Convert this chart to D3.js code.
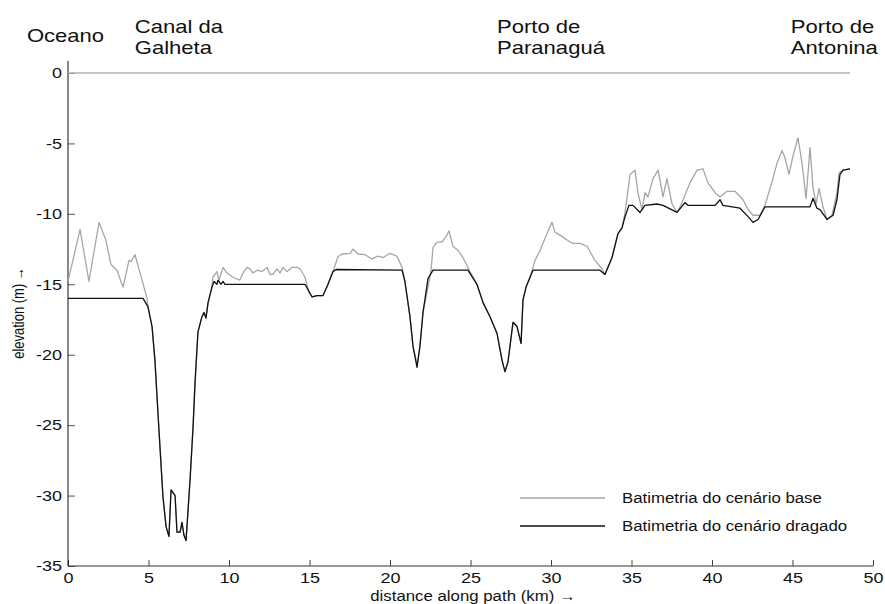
<!DOCTYPE html>
<html><head><meta charset="utf-8">
<script src="https://cdn.jsdelivr.net/npm/d3@7/dist/d3.min.js"></script>
<style>
body{margin:0;background:#fff;}
svg text{font-family:Arial,"Liberation Sans",Helvetica,sans-serif;fill:#111;}
</style></head>
<body><svg id="c" width="885" height="604"></svg>
<script>
// distance along path (km), elevation (m)
const baseBathy = [
[0,-14.8],[0.75,-11.1],[1.30,-14.8],[1.93,-10.6],[2.36,-11.9],[2.67,-13.6],[3.04,-14],[3.42,-15.2],[3.79,-13.3],[3.91,-13.4],[4.16,-12.9],[4.60,-14.7],[4.91,-16],
[4.97,-16.6],[5.22,-18],[5.40,-20.4],[5.53,-23],[5.71,-26.5],[5.90,-30.1],[6.09,-32.2],[6.27,-32.9],[6.40,-29.6],[6.65,-30],[6.77,-32.6],[6.96,-32.6],[7.08,-31.9],[7.20,-32.8],[7.33,-33.2],[7.39,-32.2],[7.58,-28.9],[7.76,-25.3],[7.89,-22],[8.07,-18.4],[8.32,-17.3],[8.45,-17],[8.57,-17.4],[8.70,-16.3],[8.94,-15.2],
[8.99,-14.5],[9.25,-14.1],[9.38,-14.7],[9.63,-13.8],[9.88,-14.2],[10.25,-14.5],[10.68,-14.7],[10.87,-14.2],[11.12,-13.8],[11.30,-13.9],[11.49,-14.2],[11.74,-14.0],[12.05,-14.1],[12.36,-13.8],[12.55,-14.3],[12.73,-14.3],[12.98,-13.9],[13.17,-14.2],[13.35,-13.8],[13.60,-14.1],[13.91,-13.8],[14.22,-13.8],[14.41,-13.9],[14.72,-14.5],[14.97,-15.6],
[15.16,-15.9],[15.47,-15.8],[15.84,-15.8],[16.15,-15],[16.46,-14.1],
[16.77,-13.05],[17.02,-12.85],[17.52,-12.8],[17.70,-12.5],[18.01,-12.85],[18.45,-12.9],[18.88,-13.2],[19.25,-13],[19.57,-13.1],[20.0,-12.8],[20.43,-13],[20.75,-13.8],[20.93,-14.9],
[21.24,-17.3],[21.43,-19.4],[21.68,-20.7],[21.86,-19.4],[22.05,-17],[22.36,-15.2],[22.55,-14],
[22.67,-12.4],[22.92,-12],[23.23,-12],[23.54,-11.5],[23.66,-11.2],[23.91,-12.3],[24.22,-12.6],[24.53,-13.1],[24.84,-13.8],[24.97,-14.1],
[25.40,-15],[25.78,-16.3],[26.21,-17.3],[26.65,-18.5],[26.96,-20.4],[27.14,-21.2],[27.33,-20.5],[27.64,-17.7],[27.89,-18],[28.14,-19.2],[28.26,-16.1],[28.45,-15.2],[28.70,-14.5],
[28.88,-13.8],[29.01,-13.3],[29.32,-12.6],[29.75,-11.4],[30.06,-10.6],[30.25,-11.3],[30.68,-11.6],[31.18,-12],[31.37,-12.1],[31.80,-12.1],[32.24,-12.3],[32.73,-13.3],[33.17,-13.9],[33.35,-14.3],
[33.79,-13.1],[34.16,-11.4],[34.41,-11],[34.60,-9.9],[34.91,-7.2],[35.22,-6.9],[35.40,-8.5],[35.65,-9.7],[35.84,-8.5],[36.02,-8.8],[36.34,-7.5],[36.65,-6.9],[36.96,-8.8],[37.20,-7.5],[37.52,-9.3],[37.83,-9.9],[38.14,-9.2],[38.63,-7.8],[39.07,-6.9],[39.44,-6.8],[39.75,-7.8],[40.19,-8.5],[40.50,-8.8],[40.93,-8.4],[41.43,-8.4],[41.93,-9],[42.24,-9.7],[42.55,-10.1],[42.98,-10.1],[43.29,-9.4],[43.73,-7.7],[44.04,-6.4],[44.35,-5.5],[44.53,-6],[44.78,-7.2],[45.03,-5.9],[45.34,-4.6],[45.59,-6.4],[45.84,-8.9],[46.09,-5.3],[46.27,-8.1],[46.46,-9.3],[46.65,-8.2],[46.89,-9.5],[47.14,-10.4],[47.45,-10.1],[47.76,-8.5],[47.89,-7.1],[48.14,-6.9],[48.57,-6.8]
];
const dredgedBathy = [
[0,-16],[4.66,-16],[4.97,-16.6],[5.22,-18],[5.40,-20.4],[5.53,-23],[5.71,-26.5],[5.90,-30.1],[6.09,-32.2],[6.27,-32.9],[6.40,-29.6],[6.65,-30],[6.77,-32.6],[6.96,-32.6],[7.08,-31.9],[7.20,-32.8],[7.33,-33.2],[7.39,-32.2],[7.58,-28.9],[7.76,-25.3],[7.89,-22],[8.07,-18.4],[8.32,-17.3],[8.45,-17],[8.57,-17.4],[8.70,-16.3],[8.94,-15.2],[9.07,-14.8],[9.25,-15],[9.32,-14.7],[9.50,-15],[9.63,-14.8],[9.75,-15],
[14.72,-15],[15.16,-15.9],[15.47,-15.8],[15.84,-15.8],[16.15,-15],[16.46,-14.1],[16.65,-13.95],[20.75,-14],[20.93,-14.8],[21.24,-17.3],[21.43,-19.4],[21.68,-20.9],[21.86,-19.4],[22.05,-17],[22.36,-14.6],[22.67,-14],[24.84,-14],
[25.40,-15],[25.78,-16.3],[26.21,-17.3],[26.65,-18.5],[26.96,-20.4],[27.14,-21.2],[27.33,-20.5],[27.64,-17.7],[27.89,-18],[28.14,-19.2],[28.26,-16.1],[28.45,-15.2],[28.70,-14.5],[28.88,-14],[33.04,-14],[33.35,-14.3],
[33.79,-13.1],[34.16,-11.4],[34.41,-11],[34.60,-10.2],[34.84,-9.4],[35.09,-9.4],[35.53,-9.9],[35.84,-9.4],[36.58,-9.3],[36.96,-9.4],[37.83,-9.9],[38.32,-9.2],[38.51,-9.4],[40.19,-9.4],[40.50,-9],[40.68,-9.4],[41.74,-9.6],[42.24,-10.2],[42.55,-10.6],[42.86,-10.4],[43.29,-9.5],[46.09,-9.5],[46.27,-8.9],[46.52,-9.6],[46.71,-9.7],[47.14,-10.4],[47.52,-10.1],[47.76,-9],[47.95,-7.2],[48.14,-6.9],[48.57,-6.8]
];
const seaLevel = [[0,0],[48.57,0]];
const xTicks = [0,5,10,15,20,25,30,35,40,45,50];
const yTicks = [0,-5,-10,-15,-20,-25,-30,-35];
const placeLabels = [
  {x:-2.55, lines:["Oceano"], y0:42},
  {x:4.15, lines:["Canal da","Galheta"], y0:33},
  {x:26.65, lines:["Porto de","Paranaguá"], y0:33},
  {x:44.9, lines:["Porto de","Antonina"], y0:33}
];
const legendItems = [
  {name:"Batimetria do cenário base", color:"#a6a6a6"},
  {name:"Batimetria do cenário dragado", color:"#111"}
];

const svg = d3.select("#c");
const x = d3.scaleLinear().domain([0,50]).range([68,873]);
const y = d3.scaleLinear().domain([-35,0]).range([566,73]);
const SX = 1.2;
function stretch(sel, k){
  sel.each(function(){
    const w = this.getComputedTextLength();
    d3.select(this).attr("textLength", w*k).attr("lengthAdjust","spacingAndGlyphs");
  });
}
const fmt = d => String(d);

// axes
const gx = svg.append("g").attr("transform",`translate(0,${y(-35)})`)
  .call(d3.axisBottom(x).tickValues(xTicks).tickFormat(fmt).tickSizeInner(-6).tickSizeOuter(0).tickPadding(6));
gx.select(".domain").remove();
gx.selectAll(".tick line").attr("stroke","#444");
gx.selectAll("text").attr("font-size",15).attr("fill","#111");
const gy = svg.append("g").attr("transform",`translate(${x(0)},0)`)
  .call(d3.axisLeft(y).tickValues(yTicks).tickFormat(fmt).tickSizeInner(-7).tickSizeOuter(0).tickPadding(6));
gy.select(".domain").remove();
gy.selectAll(".tick line").attr("stroke","#555");
gy.selectAll("text").attr("font-size",15).attr("fill","#111");
svg.selectAll(".tick text").attr("font-family","Arial, 'Liberation Sans', sans-serif");
stretch(svg.selectAll(".tick text"), SX);

// spines
svg.append("line").attr("x1",x(0)).attr("x2",x(0)).attr("y1",y(0.85)).attr("y2",y(-35)).attr("stroke","#111").attr("stroke-width",1);
svg.append("line").attr("x1",x(0)).attr("x2",x(50)).attr("y1",y(-35)).attr("y2",y(-35)).attr("stroke","#333").attr("stroke-width",1);

const line = d3.line().x(d=>x(d[0])).y(d=>y(d[1]));
svg.append("path").datum(seaLevel).attr("d",line).attr("fill","none").attr("stroke","#b4b4b4").attr("stroke-width",1.6);
svg.append("path").datum(baseBathy).attr("d",line).attr("fill","none").attr("stroke","#a6a6a6").attr("stroke-width",1.3).attr("stroke-linejoin","round");
svg.append("path").datum(dredgedBathy).attr("d",line).attr("fill","none").attr("stroke","#111").attr("stroke-width",1.3).attr("stroke-linejoin","round");

// place labels
placeLabels.forEach(p=>{
  p.lines.forEach((t,i)=>{
    svg.append("text").attr("class","place").attr("x",x(p.x)).attr("y",p.y0+i*21)
      .attr("font-size",19).text(t);
  });
});
stretch(svg.selectAll("text.place"), 1.16);

// axis titles
const xt = svg.append("text").attr("x",473).attr("y",601).attr("text-anchor","middle").attr("font-size",14).text("distance along path (km) →");
stretch(xt, SX);
svg.append("text").attr("transform",`translate(24,${313}) rotate(-90) scale(1,${SX})`).attr("text-anchor","middle").attr("font-size",13).text("elevation (m) →");

// legend
legendItems.forEach((d,i)=>{
  const yy = 498 + i*28;
  svg.append("line").attr("x1",520).attr("x2",605).attr("y1",yy).attr("y2",yy).attr("stroke",d.color).attr("stroke-width",1.6);
  svg.append("text").attr("class","leg").attr("x",622).attr("y",yy+5).attr("font-size",14).text(d.name);
});
stretch(svg.selectAll("text.leg"), SX);
</script></body></html>
